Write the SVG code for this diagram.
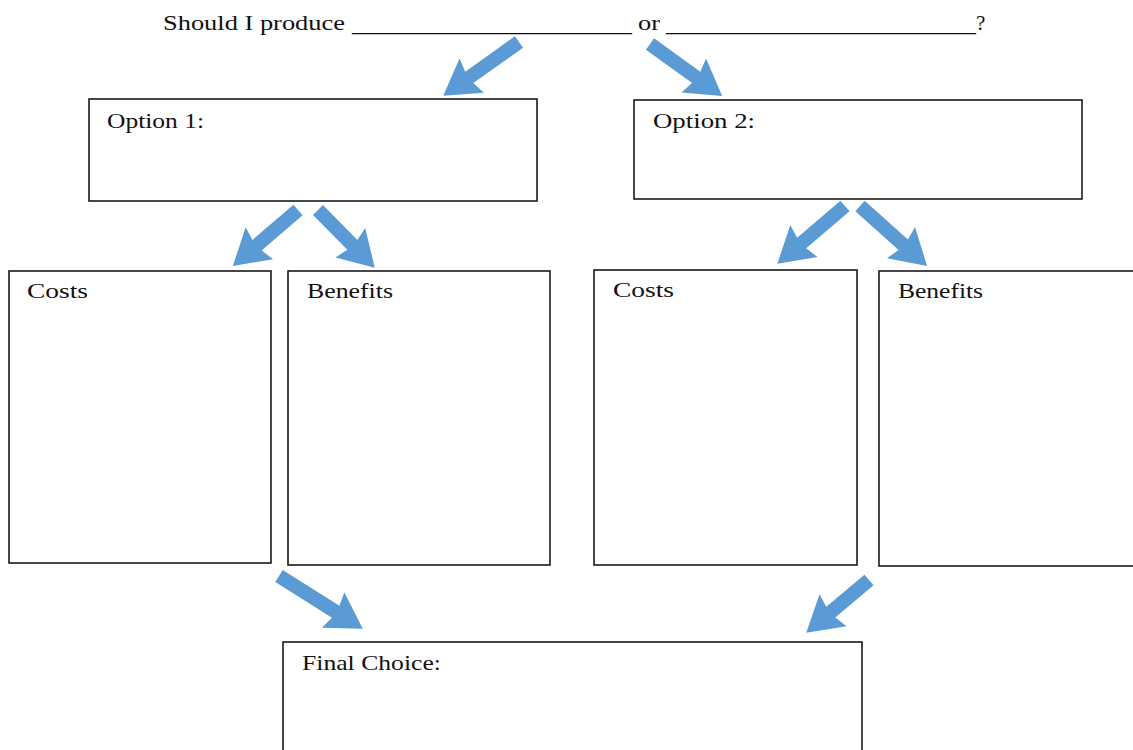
<svg xmlns="http://www.w3.org/2000/svg" width="1133" height="750" viewBox="0 0 1133 750">
<style>
.box{fill:#fff;stroke:#1a1a1a;stroke-width:1.6}
.t{font-family:"Liberation Serif","Times New Roman",serif;font-size:21px;fill:#111}
.arr{fill:#5b9bd5}
</style>
<rect width="1133" height="750" fill="#fff"/>
<g id="title">
<text class="t" y="30"><tspan x="163" textLength="182" lengthAdjust="spacingAndGlyphs">Should I produce</tspan><tspan x="352" y="31" textLength="280" lengthAdjust="spacingAndGlyphs">________________________</tspan><tspan x="638" y="30" textLength="22" lengthAdjust="spacingAndGlyphs">or</tspan><tspan x="666" y="31" textLength="310" lengthAdjust="spacingAndGlyphs">__________________________</tspan><tspan x="976" y="30">?</tspan></text>
</g>
<g id="option1"><rect class="box" x="89" y="99" width="448" height="102"/><text class="t" x="107" y="128" textLength="97" lengthAdjust="spacingAndGlyphs">Option 1:</text></g>
<g id="option2"><rect class="box" x="634" y="100" width="448" height="99"/><text class="t" x="653" y="128" textLength="102" lengthAdjust="spacingAndGlyphs">Option 2:</text></g>
<g id="costs1"><rect class="box" x="9" y="271" width="262" height="292"/><text class="t" x="27" y="298" textLength="61" lengthAdjust="spacingAndGlyphs">Costs</text></g>
<g id="benefits1"><rect class="box" x="288" y="271" width="262" height="294"/><text class="t" x="307" y="298" textLength="86" lengthAdjust="spacingAndGlyphs">Benefits</text></g>
<g id="costs2"><rect class="box" x="594" y="270" width="263" height="295"/><text class="t" x="613" y="297" textLength="61" lengthAdjust="spacingAndGlyphs">Costs</text></g>
<g id="benefits2"><rect class="box" x="879" y="271" width="270" height="295"/><text class="t" x="898" y="298" textLength="85" lengthAdjust="spacingAndGlyphs">Benefits</text></g>
<g id="final"><rect class="box" x="283" y="642" width="579" height="130"/><text class="t" x="302" y="670" textLength="139" lengthAdjust="spacingAndGlyphs">Final Choice:</text></g>
<g id="connectors" class="arr">
<path transform="translate(519,42) rotate(144.6)" d="M0,-7 L61,-7 L58,-21 L93,0 L58,21 L61,7 L0,7 Z"/>
<path transform="translate(650,44) rotate(35.8)" d="M0,-7 L57,-7 L54,-21 L89,0 L54,21 L57,7 L0,7 Z"/>
<path transform="translate(298,210) rotate(139.3)" d="M0,-7 L54,-7 L51,-21 L86,0 L51,21 L54,7 L0,7 Z"/>
<path transform="translate(318,210) rotate(45.5)" d="M0,-7 L49,-7 L46,-21 L81,0 L46,21 L49,7 L0,7 Z"/>
<path transform="translate(845,206) rotate(139.5)" d="M0,-7 L57,-7 L54,-21 L89,0 L54,21 L57,7 L0,7 Z"/>
<path transform="translate(860,206) rotate(41.8)" d="M0,-7 L58,-7 L55,-21 L90,0 L55,21 L58,7 L0,7 Z"/>
<path transform="translate(279,576) rotate(32.2)" d="M0,-7 L67,-7 L64,-21 L99,0 L64,21 L67,7 L0,7 Z"/>
<path transform="translate(869,580) rotate(139.9)" d="M0,-7 L50,-7 L47,-21 L82,0 L47,21 L50,7 L0,7 Z"/>
</g>
</svg>
